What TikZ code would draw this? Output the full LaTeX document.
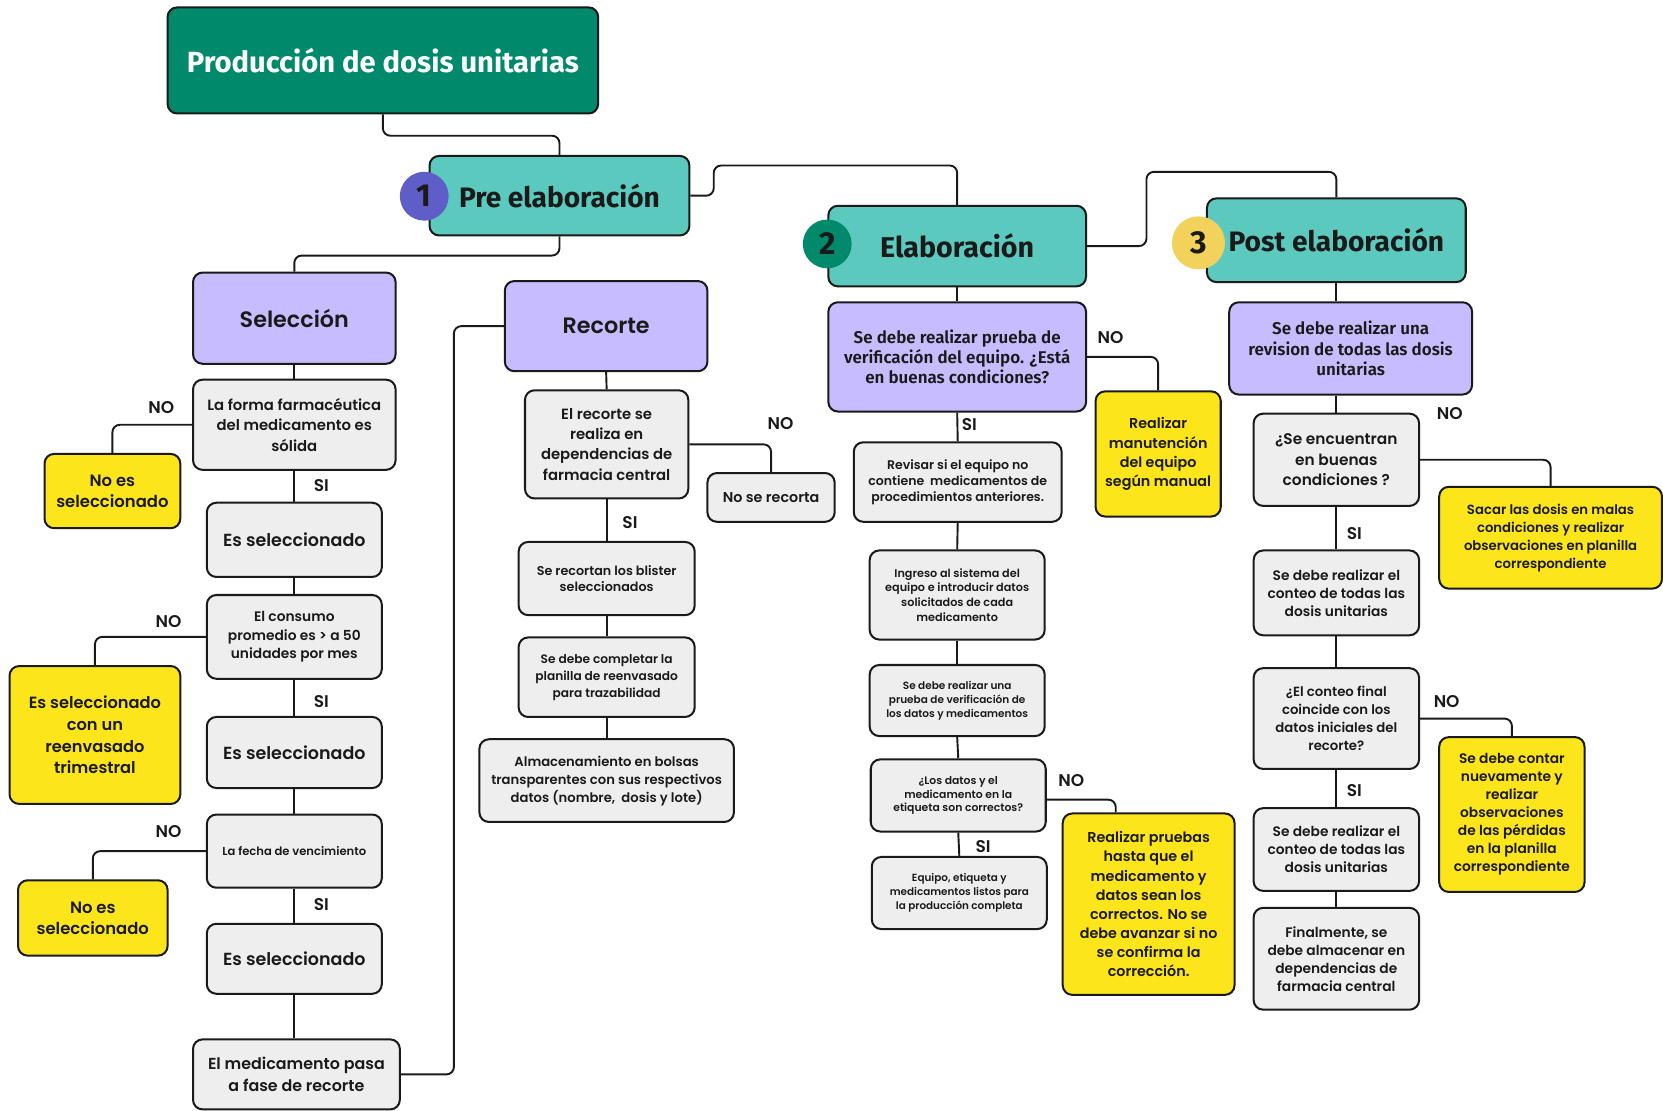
\documentclass[tikz,border=0pt]{standalone}
\usepackage{fontspec}
\setmainfont{Poppins}[UprightFont=* SemiBold, BoldFont=* Bold]
\newfontfamily\hfont{Fira Sans}[UprightFont=* SemiBold, BoldFont=* Bold]
\usetikzlibrary{calc}
\definecolor{grayc}{HTML}{EEEEEE}
\definecolor{yel}{HTML}{FDE51C}
\definecolor{lav}{HTML}{C6BCFE}
\definecolor{teal1}{HTML}{5CC9BF}
\definecolor{dgreen}{HTML}{00896B}
\definecolor{circa}{HTML}{5F5DC8}
\definecolor{circc}{HTML}{F3D25B}
\definecolor{ink}{HTML}{1A1A1A}
\newcommand\myfs[2]{\fontsize{#1}{#2}\selectfont}
\tikzset{
  box/.style={draw=ink, line width=1.9pt, rounded corners=9pt, align=center, inner sep=2pt, text=ink},
  gbox/.style={box, fill=grayc},
  ybox/.style={box, fill=yel},
  lbox/.style={box, fill=lav},
  tbox/.style={box, fill=teal1},
  conn/.style={draw=ink, line width=1.8pt, rounded corners=7pt},
  lab/.style={font=\myfs{16}{18}, text=ink, inner sep=0pt},
  num/.style={circle, inner sep=0pt, minimum size=46pt, text=ink, font=\hfont\bfseries\myfs{30}{30}},
}
\begin{document}
\begin{tikzpicture}[x=1pt, y=-1pt]
\useasboundingbox (0,0) rectangle (1568,1047);
\fill[white] (0,0) rectangle (1568,1047);

% top level
\node[box, fill=dgreen, text=white, minimum width=406pt, minimum height=100pt, font=\hfont\bfseries\myfs{27.5}{30}] (title) at (361,57) {Producción de dosis unitarias};
\node[tbox, minimum width=245pt, minimum height=75pt, font=\hfont\bfseries\myfs{26.5}{28}] (pre) at (527.5,184.5) {Pre elaboración};
\node[tbox, minimum width=243pt, minimum height=76pt, font=\hfont\bfseries\myfs{27}{28}] (elab) at (902.5,232) {Elaboración};
\node[tbox, minimum width=244pt, minimum height=79pt, font=\hfont\bfseries\myfs{26.5}{28}] (post) at (1260,226.5) {Post elaboración};
\node[num, fill=circa] (c1) at (400,185) {1};
\node[num, fill=dgreen] (c2) at (780,230) {2};
\node[num, fill=circc, minimum size=50pt] (c3) at (1130,229) {3};

% Seleccion column
\node[lbox, minimum width=191pt, minimum height=86pt, font=\myfs{21}{24}] (selec) at (277.5,300) {Selección};
\node[gbox, minimum width=191pt, minimum height=85pt, font=\myfs{14}{19.5}] (q1) at (277.5,400.5) {La forma farmacéutica\\del medicamento es\\sólida};
\node[ybox, minimum width=128pt, minimum height=70pt, font=\myfs{15.5}{20}] (no1) at (106,463) {No es\\seleccionado};
\node[gbox, minimum width=165pt, minimum height=70pt, font=\myfs{16.5}{18}] (es1) at (277.5,509) {Es seleccionado};
\node[gbox, minimum width=165pt, minimum height=79pt, font=\myfs{13}{17.5}] (q2) at (277.5,600.5) {El consumo\\promedio es > a 50\\unidades por mes};
\node[ybox, minimum width=161pt, minimum height=130pt, font=\myfs{15.3}{20.5}] (no2) at (89.5,693) {Es seleccionado\\con un\\reenvasado\\trimestral};
\node[gbox, minimum width=165pt, minimum height=67pt, font=\myfs{16.5}{18}] (es2) at (277.5,709.5) {Es seleccionado};
\node[gbox, minimum width=165pt, minimum height=69pt, font=\myfs{10.9}{13}] (q3) at (277.5,802.5) {La fecha de vencimiento};
\node[ybox, minimum width=141pt, minimum height=71pt, font=\myfs{15.5}{20}] (no3) at (87.5,865.5) {No es\\seleccionado};
\node[gbox, minimum width=165pt, minimum height=66pt, font=\myfs{16.5}{18}] (es3) at (277.5,904) {Es seleccionado};
\node[gbox, minimum width=195pt, minimum height=66pt, font=\myfs{15}{20}] (pasa) at (279.5,1013) {El medicamento pasa\\a fase de recorte};

% Recorte column
\node[lbox, minimum width=191pt, minimum height=85pt, font=\myfs{21}{24}] (recorte) at (571.5,307.5) {Recorte};
\node[gbox, minimum width=154pt, minimum height=102pt, font=\myfs{14}{19}] (rq1) at (572,419) {El recorte se\\realiza en\\dependencias de\\farmacia central};
\node[gbox, minimum width=120pt, minimum height=46pt, font=\myfs{13.5}{16}] (nosr) at (727,469) {No se recorta};
\node[gbox, minimum width=166pt, minimum height=69pt, font=\myfs{12}{16}] (r2) at (572,545.5) {Se recortan los blister\\seleccionados};
\node[gbox, minimum width=166pt, minimum height=75pt, font=\myfs{11.5}{16}] (r3) at (572,638.5) {Se debe completar la\\planilla de reenvasado\\para trazabilidad};
\node[gbox, minimum width=240pt, minimum height=78pt, font=\myfs{12.4}{17}] (r4) at (572,736) {Almacenamiento en bolsas\\transparentes con sus respectivos\\datos (nombre,\ \ dosis y lote)};

% Elaboracion column
\node[lbox, minimum width=243pt, minimum height=103pt, font=\hfont\myfs{16}{19}] (e1) at (902.5,336.5) {Se debe realizar prueba de\\verificación del equipo. ¿Está\\en buenas condiciones?};
\node[ybox, minimum width=118pt, minimum height=118pt, font=\myfs{13.5}{18}] (eno1) at (1092,428) {Realizar\\manutención\\del equipo\\según manual};
\node[gbox, minimum width=196pt, minimum height=75pt, font=\myfs{11.8}{15}] (e2) at (903,454.5) {Revisar si el equipo no\\contiene\ \ medicamentos de\\procedimientos anteriores.};
\node[gbox, minimum width=165pt, minimum height=84pt, font=\myfs{10.6}{14}] (e3) at (902.5,561) {Ingreso al sistema del\\equipo e introducir datos\\solicitados de cada\\medicamento};
\node[gbox, minimum width=165pt, minimum height=67pt, font=\myfs{9.9}{13}] (e4) at (902.5,660.5) {Se debe realizar una\\prueba de verificación de\\los datos y medicamentos};
\node[gbox, minimum width=165pt, minimum height=68pt, font=\myfs{10.2}{13}] (e5) at (903.5,750) {¿Los datos y el\\medicamento en la\\etiqueta son correctos?};
\node[ybox, minimum width=162pt, minimum height=171pt, font=\myfs{13.5}{18}] (eno2) at (1083,852.5) {Realizar pruebas\\hasta que el\\medicamento y\\datos sean los\\correctos. No se\\debe avanzar si no\\se confirma la\\corrección.};
\node[gbox, minimum width=165pt, minimum height=68pt, font=\myfs{9.8}{13}] (e6) at (904.5,842) {Equipo, etiqueta y\\medicamentos listos para\\la producción completa};

% Post elaboracion column
\node[lbox, minimum width=229pt, minimum height=87pt, font=\hfont\myfs{16}{19}] (p1) at (1273.5,328.5) {Se debe realizar una\\revision de todas las dosis\\unitarias};
\node[gbox, minimum width=156pt, minimum height=87pt, font=\myfs{14.5}{19.5}] (p2) at (1260,433.5) {¿Se encuentran\\en buenas\\condiciones ?};
\node[ybox, minimum width=210pt, minimum height=96pt, font=\myfs{12.5}{17}] (pno1) at (1462,507) {Sacar las dosis en malas\\condiciones y realizar\\observaciones en planilla\\correspondiente};
\node[gbox, minimum width=156pt, minimum height=80pt, font=\myfs{13}{17}] (p3) at (1260,559) {Se debe realizar el\\conteo de todas las\\dosis unitarias};
\node[gbox, minimum width=156pt, minimum height=95pt, font=\myfs{12.5}{17}] (p4) at (1260,677.5) {¿El conteo final\\coincide con los\\datos iniciales del\\recorte?};
\node[ybox, minimum width=137pt, minimum height=146pt, font=\myfs{13}{17}] (pno2) at (1425.5,768) {Se debe contar\\nuevamente y\\realizar\\observaciones\\de las pérdidas\\en la planilla\\correspondiente};
\node[gbox, minimum width=156pt, minimum height=78pt, font=\myfs{13}{17}] (p5) at (1260,801) {Se debe realizar el\\conteo de todas las\\dosis unitarias};
\node[gbox, minimum width=156pt, minimum height=96pt, font=\myfs{13}{17}] (p6) at (1260,904) {Finalmente, se\\debe almacenar en\\dependencias de\\farmacia central};

% connectors: top level
\draw[conn] (title.south) -- ++(0,20) -| (pre.north);
\draw[conn] (pre.east) -- ++(22,0) |- ($(elab.north)+(0,-37)$) -- (elab.north);
\draw[conn] (elab.east) -- ++(56,0) |- ($(post.north)+(0,-24)$) -- (post.north);
\draw[conn] (pre.south) -- ++(0,18) -| (selec.north);

% seleccion
\draw[conn] (selec.south) -- (q1.north);
\draw[conn] (q1.west) -| (no1.north);
\draw[conn] (q1.south) -- (es1.north);
\draw[conn] (es1.south) -- (q2.north);
\draw[conn] (q2.west) -| (no2.north);
\draw[conn] (q2.south) -- (es2.north);
\draw[conn] (es2.south) -- (q3.north);
\draw[conn] (q3.west) -| (no3.north);
\draw[conn] (q3.south) -- (es3.north);
\draw[conn] (es3.south) -- (es3.south |- pasa.north);
\draw[conn] (pasa.east) -- ++(50,0) |- (recorte.west);

% recorte
\draw[conn] (recorte.south) -- (rq1.north);
\draw[conn] (rq1.east) -| (nosr.north);
\draw[conn] (rq1.south) -- (r2.north);
\draw[conn] (r2.south) -- (r3.north);
\draw[conn] (r3.south) -- (r4.north);

% elaboracion
\draw[conn] (elab.south) -- (e1.north);
\draw[conn] (e1.east) -| (eno1.north);
\draw[conn] (e1.south) -- (e2.north);
\draw[conn] (e2.south) -- (e3.north);
\draw[conn] (e3.south) -- (e4.north);
\draw[conn] (e4.south) -- (e5.north);
\draw[conn] ($(e5.east)+(0,4)$) -| ($(eno2.north)+(-31,0)$);
\draw[conn] (e5.south) -- (e6.north);

% post
\draw[conn] (post.south) -- (post.south |- p1.north);
\draw[conn] (p2.north |- p1.south) -- (p2.north);
\draw[conn] (p2.east) -| (pno1.north);
\draw[conn] (p2.south) -- (p3.north);
\draw[conn] (p3.south) -- (p4.north);
\draw[conn] (p4.east) -| (pno2.north);
\draw[conn] (p4.south) -- (p5.north);
\draw[conn] (p5.south) -- (p6.north);

% labels
\node[lab] (l1) at (152,384) {NO};
\node[lab] (l2) at (159,586) {NO};
\node[lab] (l3) at (159,784) {NO};
\node[lab] (l4) at (736,399) {NO};
\node[lab] (l5) at (1047,318) {NO};
\node[lab] (l6) at (1010,736) {NO};
\node[lab] (l7) at (1367,390) {NO};
\node[lab] (l8) at (1364,661) {NO};
\node[lab] (s1) at (303,458) {SI};
\node[lab] (s2) at (303,661) {SI};
\node[lab] (s3) at (303,853) {SI};
\node[lab] (s4) at (594,493) {SI};
\node[lab] (s5) at (914,400) {SI};
\node[lab] (s6) at (927,798) {SI};
\node[lab] (s7) at (1277,503) {SI};
\node[lab] (s8) at (1277,745) {SI};
\end{tikzpicture}
\end{document}
